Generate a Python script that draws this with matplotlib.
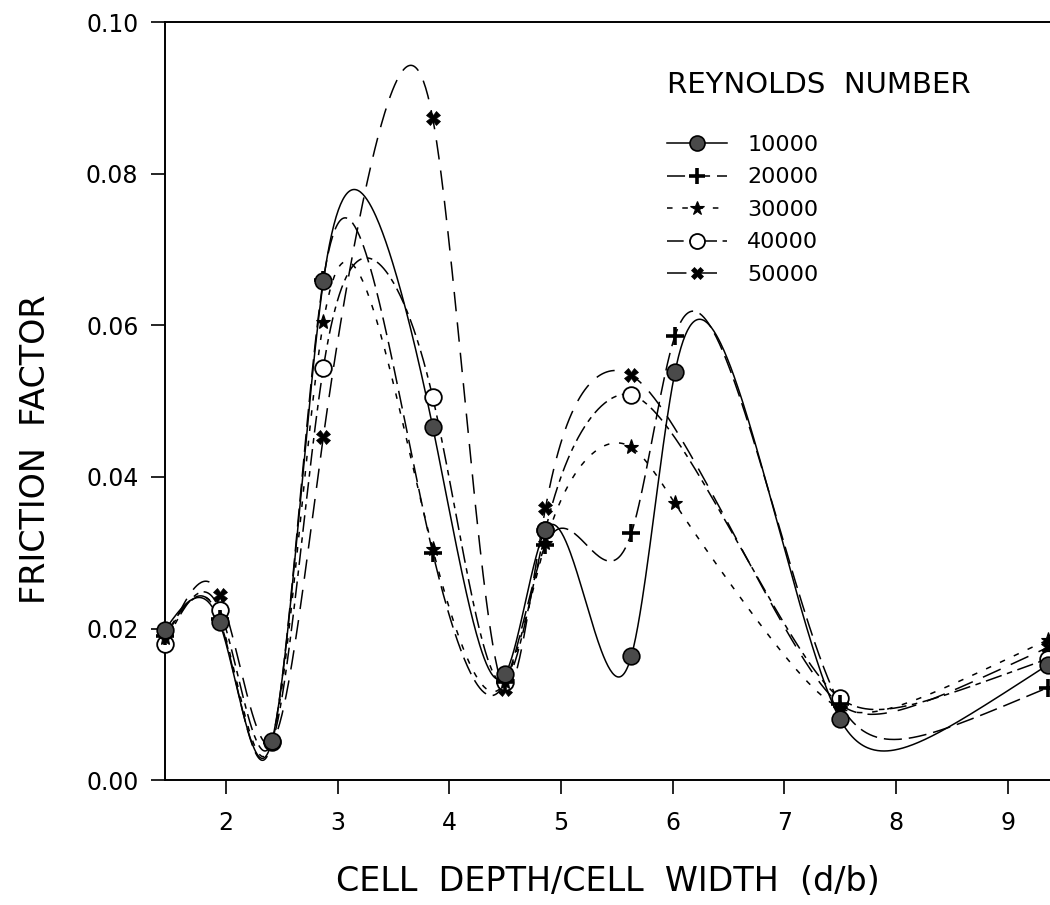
import numpy as np
import matplotlib
matplotlib.use("Agg")
import matplotlib.pyplot as plt
from matplotlib.lines import Line2D

# d/b ratios where friction factors were measured
ratio = [1.45, 1.94, 2.41, 2.87, 3.85, 4.50, 4.86, 5.63, 6.02, 7.50, 9.36]

# friction factor per Reynolds number (nan = no measurement)
f_10000 = [0.0198, 0.0208, 0.0052, 0.0658, 0.0466, 0.0140, 0.0330, 0.0164, 0.0538, 0.0080, 0.0152]
f_20000 = [0.0190, 0.0212, 0.0050, 0.0660, 0.0300, 0.0130, 0.0310, 0.0326, 0.0586, 0.0100, 0.0122]
f_30000 = [0.0188, 0.0214, 0.0050, 0.0604, 0.0305, 0.0130, 0.0313, 0.0439, 0.0365, 0.0095, 0.0185]
f_40000 = [0.0180, 0.0225, 0.0050, 0.0544, 0.0505, 0.0130, 0.0330, 0.0508, np.nan, 0.0108, 0.0160]
f_50000 = [0.0180, 0.0244, 0.0050, 0.0453, 0.0873, 0.0120, 0.0359, 0.0534, np.nan, 0.0100, 0.0175]

labels = ["10000", "20000", "30000", "40000", "50000"]
x_ticks = [2, 3, 4, 5, 6, 7, 8, 9]
y_ticks = [0.00, 0.02, 0.04, 0.06, 0.08, 0.10]

TENSION = 3.4  # spline under tension, 1/(d/b) units

plt.rcParams["font.family"] = ["DejaVu Sans"]
plt.rcParams["lines.scale_dashes"] = False


def tension_spline(x, y, p=TENSION, n=800):
    """Natural spline under tension through the measured points."""
    x = np.asarray(x, float)
    y = np.asarray(y, float)
    ok = ~np.isnan(y)
    x, y = x[ok], y[ok]
    k = len(x)
    h = np.diff(x)
    d = np.diff(y) / h
    a = 1 / (p * p * h) - 1 / (p * np.sinh(p * h))
    b = np.cosh(p * h) / (p * np.sinh(p * h)) - 1 / (p * p * h)
    A = np.zeros((k, k))
    r = np.zeros(k)
    A[0, 0] = A[-1, -1] = 1.0
    for i in range(1, k - 1):
        A[i, i - 1] = a[i - 1]
        A[i, i] = b[i - 1] + b[i]
        A[i, i + 1] = a[i]
        r[i] = d[i] - d[i - 1]
    M = np.linalg.solve(A, r)
    xs = np.linspace(x[0], x[-1], n)
    j = np.clip(np.searchsorted(x, xs) - 1, 0, k - 2)
    x0, x1, hh = x[j], x[j + 1], h[j]
    ys = ((M[j] * np.sinh(p * (x1 - xs)) + M[j + 1] * np.sinh(p * (xs - x0)))
          / (p * p * np.sinh(p * hh))
          + (y[j] - M[j] / p ** 2) * (x1 - xs) / hh
          + (y[j + 1] - M[j + 1] / p ** 2) * (xs - x0) / hh)
    return xs, ys


series = [
    (f_10000, dict(ls="-", marker="o", mfc="#4a4a4a", mec="black", ms=12, mew=1.2)),
    (f_20000, dict(ls=(0, (13, 5)), marker="+", mfc="black", mec="black", ms=13, mew=2.6)),
    (f_30000, dict(ls=(0, (4, 7)), marker="*", mfc="black", mec="black", ms=11, mew=0.8)),
    (f_40000, dict(ls=(0, (12, 4, 4, 4)), marker="o", mfc="white", mec="black", ms=12, mew=1.3)),
    (f_50000, dict(ls=(0, (14, 8)), marker="X", mfc="black", mec="black", ms=10, mew=0.5)),
]

fig = plt.figure(figsize=(10.5, 9.05), dpi=100)
ax = fig.add_axes([0.157, 0.138, 0.843, 0.8376])

# draw the filled-circle series last so it sits on top
for order, (vals, st) in reversed(list(enumerate(series))):
    xs, ys = tension_spline(ratio, vals)
    ax.plot(xs, ys, color="black", lw=1.1, ls=st["ls"], zorder=2)
    ax.plot(ratio, vals, ls="none", marker=st["marker"], mfc=st["mfc"], mec=st["mec"],
            ms=st["ms"], mew=st["mew"], zorder=3 + (5 - order), clip_on=False)

handles = [Line2D([], [], color="black", lw=1.1, ls=st["ls"], marker=st["marker"],
                  mfc=st["mfc"], mec=st["mec"], ms=st["ms"] * 0.9, mew=st["mew"])
           for vals, st in series]

ax.set_xlim(1.45, 9.38)
ax.set_ylim(0.0, 0.10)
ax.set_xticks(x_ticks)
ax.set_xticklabels([str(t) for t in x_ticks])
ax.set_yticks(y_ticks)
ax.set_yticklabels([f"{t:.2f}" for t in y_ticks])
ax.tick_params(axis="both", direction="out", length=10, width=1.2, labelsize=17, pad=9)
ax.tick_params(axis="x", pad=12)
ax.spines["right"].set_visible(False)
for s in ("left", "bottom", "top"):
    ax.spines[s].set_linewidth(1.4)

ax.set_xlabel("CELL  DEPTH/CELL  WIDTH  (d/b)", fontsize=24, labelpad=22)
ax.set_ylabel("FRICTION  FACTOR", fontsize=24)
ax.yaxis.set_label_coords(-0.127, 0.437)

leg = ax.legend(handles, labels, title="REYNOLDS  NUMBER", loc="upper left",
                bbox_to_anchor=(0.545, 0.962), frameon=False, fontsize=16,
                title_fontsize=21, handlelength=2.7, labelspacing=0.56,
                handletextpad=0.9, alignment="left")
leg._legend_box.sep = 26

fig.savefig("out.png", dpi=100)
